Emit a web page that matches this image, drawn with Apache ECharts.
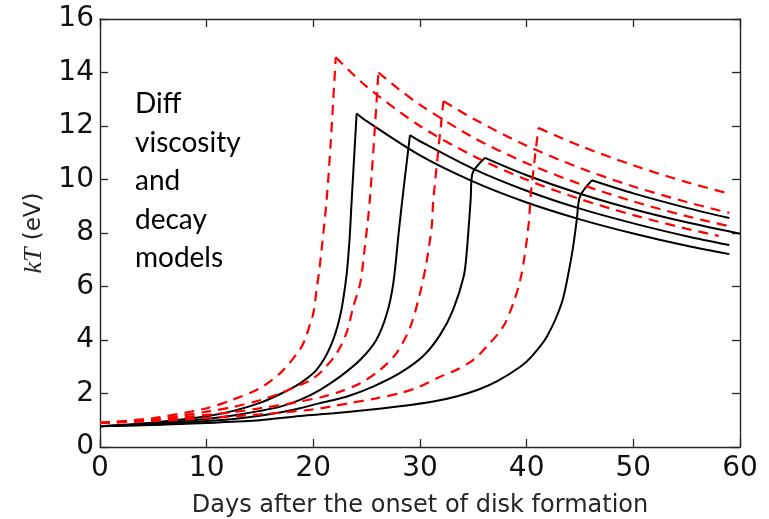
<!DOCTYPE html>
<html>
<head>
<meta charset="utf-8">
<script src="https://cdn.jsdelivr.net/npm/echarts@6/dist/echarts.min.js"></script>
<style>
html,body{margin:0;padding:0;background:#fff;}
#chart{width:769px;height:519px;}
</style>
</head>
<body>
<div id="chart"></div>
<script>
// x: days after onset of disk formation, y: kT (eV)
const xTitle = 'Days after the onset of disk formation';
const yTitle = '{i|kT} (eV)';
const note = 'Diff\nviscosity\nand\ndecay\nmodels';
const xMin = 0, xMax = 60, xStep = 10;
const yMin = 0, yMax = 16, yStep = 2;

// black solid curves
const black1 = [[0,0.78],[5,0.92],[10,1.15],[12.5,1.35],[15,1.65],[17,2.0],[18.75,2.38],[20.3,2.88],[21.6,3.75],[22.5,4.88],[23.1,6.38],[23.4,7.8],[23.6,9.25],[24.06,12.47],[25,12.18],[30,10.9],[35,9.92],[40,9.14],[45,8.51],[50,7.98],[55,7.52],[59,7.21]];
const black2 = [[0,0.78],[5,0.88],[10,1.05],[12.5,1.18],[15,1.35],[17,1.52],[18.75,1.76],[20.6,2.13],[22.5,2.63],[24.4,3.26],[25.9,4.0],[26.9,5.0],[27.5,6.13],[28.0,8.0],[28.3,9.1],[29.06,11.66],[30,11.43],[35,10.4],[40,9.58],[45,8.91],[50,8.36],[55,7.88],[59,7.55]];
const black3 = [[0,0.78],[5,0.84],[10,0.97],[12.5,1.05],[15,1.17],[17,1.3],[18.75,1.45],[20.6,1.64],[23.1,1.88],[25.6,2.26],[28.1,2.76],[30.3,3.4],[31.9,4.2],[33.1,5.13],[34.1,6.38],[34.4,7.38],[34.75,9.25],[34.9,10.2],[36.1,10.81],[40,10.16],[45,9.47],[50,8.89],[55,8.4],[60,7.97]];
const black4 = [[0,0.78],[5,0.82],[10,0.9],[15,1.0],[18.75,1.16],[21.9,1.26],[25,1.38],[28.1,1.52],[31.25,1.7],[33.5,1.9],[35.5,2.15],[37.2,2.45],[39.4,3.0],[40.5,3.4],[41.9,4.13],[43.3,5.4],[44.06,6.8],[44.4,7.6],[44.7,8.5],[45.0,9.37],[46.1,9.97],[50,9.48],[55,8.94],[59,8.56]];

// red dashed curves
const red1 = [[0,0.9],[5,1.08],[10,1.45],[12.5,1.78],[15,2.2],[17,2.8],[18.75,3.65],[19.2,4.0],[19.7,4.6],[20.0,5.0],[20.3,5.85],[20.6,6.75],[20.94,8.0],[21.25,9.25],[21.6,11.2],[22.1,14.57],[25,13.47],[30,12.0],[35,10.88],[40,9.99],[45,9.27],[50,8.67],[55,8.16],[58,7.89]];
const red2 = [[0,0.9],[5,1.03],[10,1.32],[12.5,1.5],[15,1.75],[17,2.02],[18.75,2.32],[19.8,2.51],[20.9,2.88],[22.2,3.51],[23.1,4.26],[23.75,5.25],[24.4,6.13],[24.8,7.38],[25.3,9.25],[26.1,14.0],[28,13.38],[30,12.79],[35,11.57],[40,10.61],[45,9.83],[50,9.18],[55,8.63],[59,8.25]];
const red3 = [[0,0.9],[5,1.0],[10,1.2],[12.5,1.3],[15,1.45],[17,1.57],[18.75,1.7],[20.9,1.88],[22.5,2.07],[24.4,2.38],[26.25,2.88],[27.8,3.51],[29.1,4.5],[30.0,5.75],[30.6,6.88],[31.1,8.25],[31.25,9.25],[32.2,12.93],[35,12.27],[40,11.26],[45,10.43],[50,9.74],[55,9.16],[59,8.75]];
const red4 = [[0,0.9],[5,0.97],[10,1.08],[15,1.22],[19.7,1.39],[21.6,1.51],[23.4,1.64],[25.9,1.82],[28.1,2.01],[30,2.26],[31.9,2.63],[33.4,2.88],[35,3.26],[36.25,3.75],[37.8,4.5],[38.75,5.38],[39.4,6.25],[39.8,7.13],[40.2,8.38],[40.4,9.5],[41.1,11.93],[45,11.26],[50,10.53],[55,9.9],[59,9.47]];

const blackSeries = [black1, black2, black3, black4];
const redSeries = [red1, red2, red3, red4];

function peakIndex(d) {
  let k = 0;
  d.forEach((p, i) => { if (p[1] > d[k][1]) k = i; });
  return k;
}

const chart = echarts.init(document.getElementById('chart'), null, {renderer: 'canvas'});
const axisLine = {show: true, onZero: false, lineStyle: {color: '#262626', width: 1.4}};
const tickStyle = {show: true, inside: true, length: 8, lineStyle: {color: '#262626', width: 1.3}};
const series = [];
function addCurve(d, i, style, z, tag) {
  const k = peakIndex(d);
  series.push({type: 'line', name: tag + i + 'a', data: d.slice(0, k + 1), showSymbol: false, symbol: 'none',
    smooth: 0.3, lineStyle: style, z});
  series.push({type: 'line', name: tag + i + 'b', data: d.slice(k), showSymbol: false, symbol: 'none',
    smooth: 0.3, lineStyle: style, z});
}
blackSeries.forEach((d, i) => addCurve(d, i, {color: '#000', width: 2}, 2, 'b'));
redSeries.forEach((d, i) => addCurve(d, i, {color: '#ff0000', width: 2.2, type: [10, 7]}, 3, 'r'));

chart.setOption({
  animation: false,
  backgroundColor: '#fff',
  grid: {left: 100, right: 29, top: 19, bottom: 72, containLabel: false, outerBoundsMode: 'none'},
  xAxis: [{
    type: 'value', min: xMin, max: xMax, interval: xStep, position: 'bottom',
    axisLine, axisTick: tickStyle, splitLine: {show: false},
    axisLabel: {color: '#111', fontFamily: 'DejaVu Sans', fontSize: 28, margin: 8},
    name: xTitle, nameLocation: 'middle', nameGap: 47,
    nameTextStyle: {color: '#262626', fontFamily: 'DejaVu Sans', fontSize: 24}
  }, {
    type: 'value', min: xMin, max: xMax, interval: xStep, position: 'top',
    axisLine, axisTick: tickStyle, splitLine: {show: false}, axisLabel: {show: false}
  }],
  yAxis: [{
    type: 'value', min: yMin, max: yMax, interval: yStep, position: 'left',
    axisLine, axisTick: tickStyle, splitLine: {show: false},
    axisLabel: {color: '#111', fontFamily: 'DejaVu Sans', fontSize: 28, margin: 6},
    name: yTitle, nameLocation: 'middle', nameGap: 53,
    nameTextStyle: {color: '#262626', fontFamily: 'DejaVu Sans', fontSize: 23,
      rich: {i: {fontFamily: 'Liberation Serif', fontStyle: 'italic', fontSize: 26, color: '#262626'}}}
  }, {
    type: 'value', min: yMin, max: yMax, interval: yStep, position: 'right',
    axisLine, axisTick: tickStyle, splitLine: {show: false}, axisLabel: {show: false}
  }],
  graphic: [{
    type: 'text', x: 135, y: 85, z: 10,
    style: {text: note, font: '28px Lato', lineHeight: 38.5, fill: '#000', verticalAlign: 'top', align: 'left'}
  }],
  series
});
</script>
</body>
</html>
